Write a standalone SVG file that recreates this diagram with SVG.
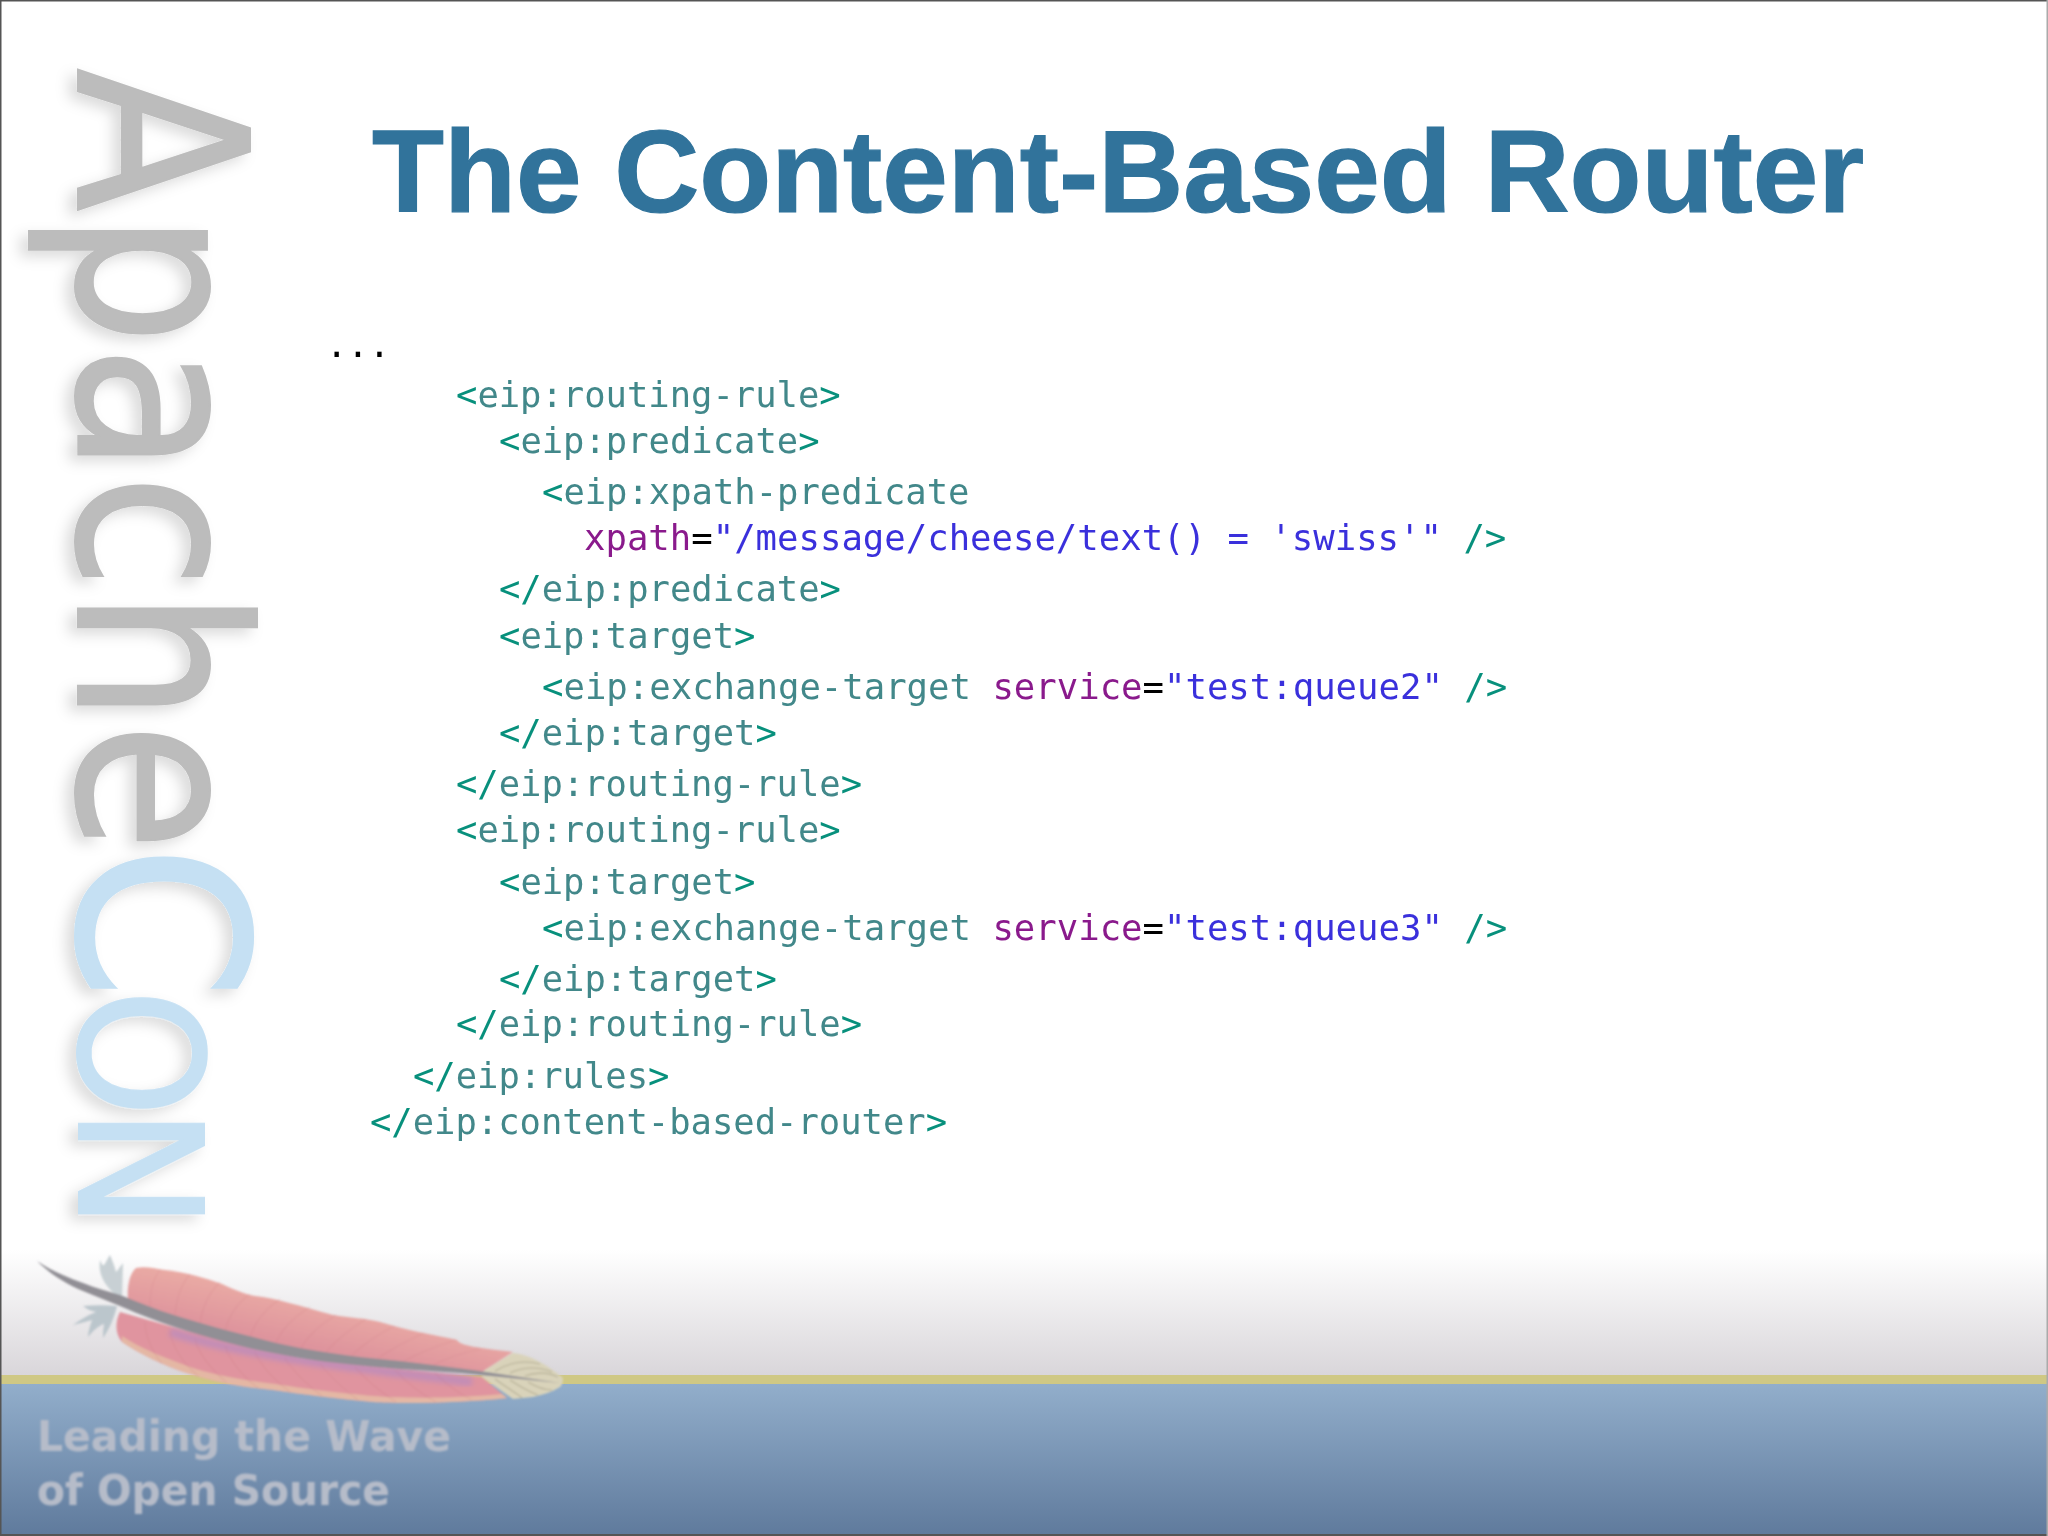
<svg xmlns="http://www.w3.org/2000/svg" width="2048" height="1536" viewBox="0 0 2048 1536">
<defs>
<linearGradient id="fade" x1="0" y1="0" x2="0" y2="1"><stop offset="0" stop-color="#ffffff"/><stop offset="1" stop-color="#d9d6da"/></linearGradient>
<linearGradient id="sea" x1="0" y1="0" x2="0" y2="1"><stop offset="0" stop-color="#92aecb"/><stop offset="1" stop-color="#5f7a9c"/></linearGradient>
<linearGradient id="vaneTop" gradientUnits="userSpaceOnUse" x1="310" y1="1300" x2="300" y2="1350"><stop offset="0" stop-color="#e9aaa4"/><stop offset="1" stop-color="#dd919c"/></linearGradient>
<filter id="shadow" x="-10%" y="-10%" width="120%" height="120%"><feDropShadow dx="-8" dy="6" stdDeviation="7" flood-color="#000" flood-opacity="0.14"/></filter>
<filter id="soft"><feGaussianBlur stdDeviation="0.9"/></filter>
<filter id="softer"><feGaussianBlur stdDeviation="0.8"/></filter>
<filter id="band"><feGaussianBlur stdDeviation="2.5"/></filter>
</defs>
<style>
.code{font-family:"DejaVu Sans Mono","Liberation Mono",monospace;font-size:35.5px;fill:#42888a}
.long{font-size:35.63px}
.b{fill:#07907c}
.a{fill:#8a1a8c}
.e{fill:#000}
.v{fill:#3a30dc}
.foot{font-family:"DejaVu Sans",sans-serif;font-weight:bold;font-size:42px;fill:#b6bcc9}
.side{font-family:"DejaVu Sans",sans-serif;stroke-width:2}
.gr{fill:#bcbcbc;stroke:#bcbcbc}
.bl{fill:#c5e0f3;stroke:#c5e0f3}
.barb{fill:none;stroke:#c9707f;stroke-width:1.2;opacity:.16}
.quill{fill:none;stroke:#a8a289;stroke-width:1.1;opacity:.7}
</style>
<g id="background">
<rect width="2048" height="1536" fill="#fff"/>
<rect x="0" y="1250" width="2048" height="125" fill="url(#fade)"/>
<rect x="0" y="1384" width="2048" height="152" fill="url(#sea)"/>
<rect x="0" y="1375" width="2048" height="9" fill="#cfc884"/>
</g>
<g id="sidebar" filter="url(#shadow)">
<text class="side gr" transform="translate(78,68) rotate(90) scale(0.89,1)" font-size="236">Apache</text>
<text class="side bl" transform="translate(78,845) rotate(90) scale(0.94,1)" font-size="236">C</text>
<text class="side bl" transform="translate(79,989) rotate(90) scale(0.95,1)" font-size="171" x="0 125">ON</text>
</g>
<g id="feather" filter="url(#softer)">
<path d="M110 1255C104 1264 104 1270 100 1260C98 1275 104 1285 118 1297L122 1298L123 1263C118 1270 116 1272 116 1272C114 1264 112 1260 110 1255Z" fill="#c8d0d4"/>
<path d="M117 1306C106 1305 94 1305 83 1306C88 1310 92 1311 96 1312C88 1315 80 1320 73 1325C80 1323 86 1322 92 1320C90 1326 88 1332 88 1337C94 1330 98 1326 104 1324C103 1330 103 1334 103 1338C110 1328 114 1318 117 1306Z" fill="#bbc6cc"/>
<path d="M128 1300C127 1288 129 1274 136 1268C146 1266 156 1269 165 1270C185 1272 205 1278 222 1284C235 1290 245 1294 255 1296C275 1298 300 1306 333 1315C350 1318 365 1318 380 1322C405 1330 435 1335 457 1340C460 1345 470 1347 513 1352L482 1372L400 1365L300 1353L187 1325Z" fill="url(#vaneTop)"/>
<path d="M120 1312C115 1322 115 1334 122 1342C140 1354 165 1366 187 1373C210 1381 240 1387 273 1390C300 1394 340 1399 373 1402C400 1404 465 1403 507 1398L482 1377L400 1369L300 1358L187 1331Z" fill="#e0949f"/>
<path d="M122 1342C140 1354 165 1366 187 1373C210 1381 240 1387 273 1390C300 1394 340 1399 373 1402C400 1404 465 1403 507 1398L502 1394C450 1399 400 1398 373 1396C340 1393 300 1388 275 1384C240 1380 210 1374 190 1367C165 1358 140 1348 122 1336Z" fill="#e4b7a4"/>
<path d="M170 1332C230 1352 320 1364 472 1382" fill="none" stroke="#b08ac6" stroke-width="9" opacity="0.6" filter="url(#band)"/>
<path class="barb" d="M150 1306C150 1292 152 1280 160 1270M175 1316C176 1300 180 1286 190 1274M200 1324C202 1308 208 1294 220 1282M225 1332C228 1318 236 1304 250 1294M250 1338C254 1324 264 1310 280 1299M275 1345C280 1332 292 1318 310 1307M300 1350C306 1338 318 1326 336 1315M325 1354C332 1344 346 1332 366 1319M350 1358C358 1348 372 1338 394 1326M375 1361C386 1352 400 1344 424 1333M400 1364C412 1356 430 1348 456 1340M430 1367C442 1360 456 1354 480 1349"/>
<path class="barb" d="M145 1322C145 1334 150 1348 162 1364M170 1331C172 1345 180 1360 198 1376M195 1339C198 1352 208 1366 226 1382M225 1346C230 1360 240 1374 258 1388M255 1352C260 1364 272 1378 290 1392M285 1358C292 1370 304 1382 322 1396M320 1364C328 1374 340 1386 358 1400M355 1367C364 1378 378 1390 396 1402M395 1370C404 1380 418 1392 436 1402M435 1373C444 1382 456 1392 472 1400"/>
<path d="M482 1372L513 1353C522 1354 530 1357 536 1360C546 1365 556 1372 563 1378C563 1382 562 1385 560 1387C552 1392 542 1395 533 1397L513 1399L482 1377Z" fill="#d9d3ba"/>
<path class="quill" d="M495 1371C510 1362 525 1360 540 1364M510 1373C522 1367 538 1366 552 1372M525 1376C535 1372 548 1372 558 1377M495 1379C510 1390 518 1394 522 1398M510 1380C522 1388 530 1392 538 1395M528 1382C538 1388 545 1390 552 1390"/>
<path d="M37 1261C50 1270 66 1277 83 1283C95 1288 108 1291 120 1295C140 1303 165 1313 187 1319C210 1326 232 1332 253 1337C268 1341 284 1345 300 1348C335 1354 365 1358 400 1361C428 1364 455 1368 480 1371L560 1383L480 1375C455 1372 428 1371 400 1369C365 1366 332 1363 300 1358C284 1355 268 1352 253 1349C232 1344 210 1338 187 1331C165 1324 140 1315 120 1306C108 1301 95 1296 83 1291C66 1284 50 1274 37 1261Z" fill="#918f95"/>
</g>
<g id="tagline" filter="url(#soft)">
<text class="foot" x="37" y="1451" textLength="414" lengthAdjust="spacingAndGlyphs">Leading the Wave</text>
<text class="foot" x="37" y="1505" textLength="353" lengthAdjust="spacingAndGlyphs">of Open Source</text>
</g>
<text id="title" x="372" y="212" font-family="'Liberation Sans',Arial,sans-serif" font-weight="bold" font-size="117" fill="#31739b" stroke="#31739b" stroke-width="1.2" textLength="1492" lengthAdjust="spacingAndGlyphs">The Content-Based Router</text>
<g id="code">
<text class="code e" x="326" y="357">...</text>
<text class="code" x="456" y="407"><tspan class="b">&lt;</tspan>eip:routing-rule<tspan class="b">&gt;</tspan></text>
<text class="code" x="499" y="453"><tspan class="b">&lt;</tspan>eip:predicate<tspan class="b">&gt;</tspan></text>
<text class="code" x="542" y="504"><tspan class="b">&lt;</tspan>eip:xpath-predicate</text>
<text class="code long" x="584" y="550"><tspan class="a">xpath</tspan><tspan class="e">=</tspan><tspan class="v">"/message/cheese/text() = 'swiss'"</tspan> <tspan class="b">/&gt;</tspan></text>
<text class="code" x="499" y="601"><tspan class="b">&lt;/</tspan>eip:predicate<tspan class="b">&gt;</tspan></text>
<text class="code" x="499" y="648"><tspan class="b">&lt;</tspan>eip:target<tspan class="b">&gt;</tspan></text>
<text class="code long" x="542" y="699"><tspan class="b">&lt;</tspan>eip:exchange-target <tspan class="a">service</tspan><tspan class="e">=</tspan><tspan class="v">"test:queue2"</tspan> <tspan class="b">/&gt;</tspan></text>
<text class="code" x="499" y="745"><tspan class="b">&lt;/</tspan>eip:target<tspan class="b">&gt;</tspan></text>
<text class="code" x="456" y="796"><tspan class="b">&lt;/</tspan>eip:routing-rule<tspan class="b">&gt;</tspan></text>
<text class="code" x="456" y="842"><tspan class="b">&lt;</tspan>eip:routing-rule<tspan class="b">&gt;</tspan></text>
<text class="code" x="499" y="894"><tspan class="b">&lt;</tspan>eip:target<tspan class="b">&gt;</tspan></text>
<text class="code long" x="542" y="940"><tspan class="b">&lt;</tspan>eip:exchange-target <tspan class="a">service</tspan><tspan class="e">=</tspan><tspan class="v">"test:queue3"</tspan> <tspan class="b">/&gt;</tspan></text>
<text class="code" x="499" y="991"><tspan class="b">&lt;/</tspan>eip:target<tspan class="b">&gt;</tspan></text>
<text class="code" x="456" y="1036"><tspan class="b">&lt;/</tspan>eip:routing-rule<tspan class="b">&gt;</tspan></text>
<text class="code" x="413" y="1088"><tspan class="b">&lt;/</tspan>eip:rules<tspan class="b">&gt;</tspan></text>
<text class="code" x="370" y="1134"><tspan class="b">&lt;/</tspan>eip:content-based-router<tspan class="b">&gt;</tspan></text>
</g>
<g id="frame" fill="#555">
<rect x="0" y="0" width="2048" height="1.5"/>
<rect x="0" y="0" width="1.5" height="1536"/>
<rect x="0" y="1534" width="2048" height="2"/>
<rect x="2046.5" y="0" width="1.5" height="1536" fill="#aaa"/>
</g>
</svg>
